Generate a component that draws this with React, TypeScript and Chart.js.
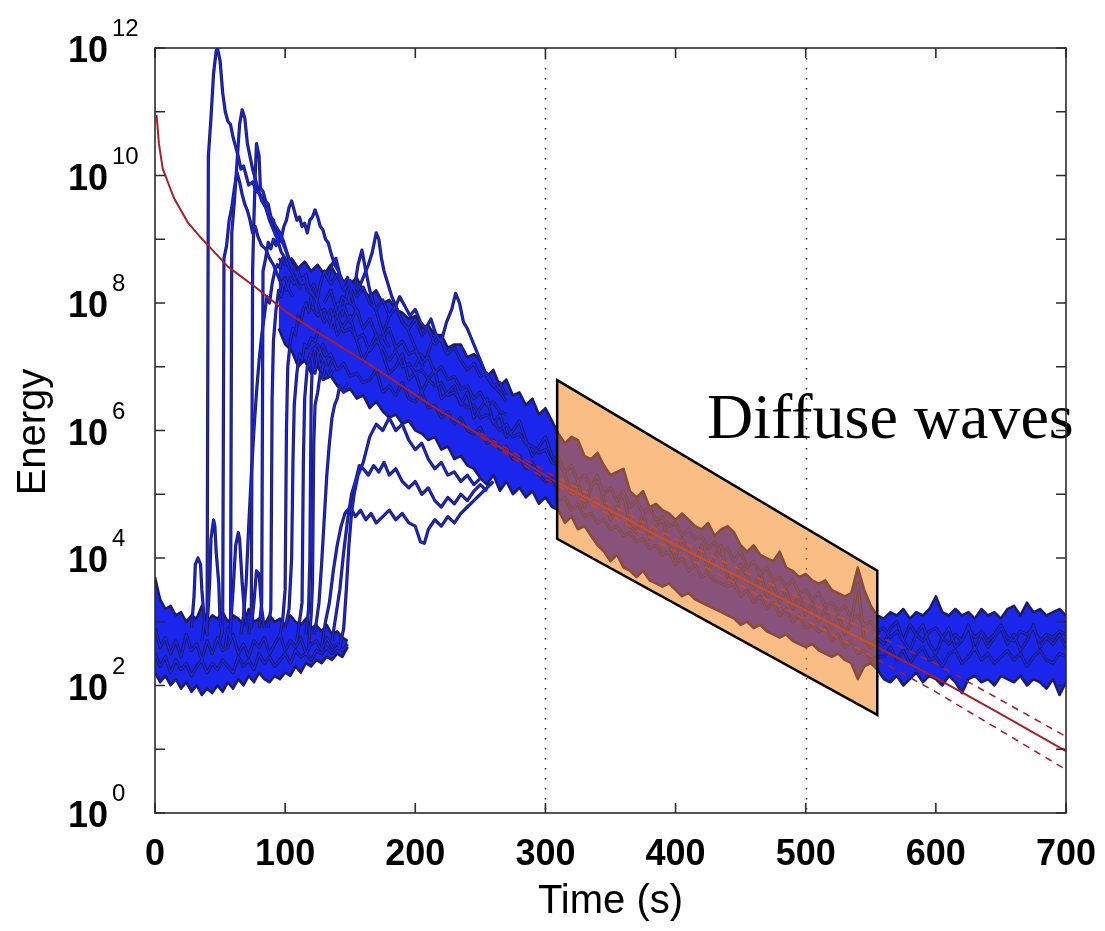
import React, { useEffect, useRef } from "react";
import { Chart, registerables } from "chart.js";
Chart.register(...registerables);

// ---------- axis / labels ----------
const xTickValues = [0, 100, 200, 300, 400, 500, 600, 700];
const yTickExps = [0, 1, 2, 3, 4, 5, 6, 7, 8, 9, 10, 11, 12];
const yLabelExps = [0, 2, 4, 6, 8, 10, 12];
const dottedTimes = [300, 500];
const xTitle = "Time (s)";
const yTitle = "Energy";
const annotationText = "Diffuse waves";

// ---------- highlighted region (time, log10 energy) ----------
const polyTimes = [309, 555, 555, 309];
const polyExps = [6.79, 3.8, 1.54, 4.3];

// ---------- early noise floor envelope (t = 0..148, step 4), log10 energy ----------
const noiseStart = 0;
const noiseStep = 4;
const noiseUpper = [3.7, 3.35, 3.2, 3.25, 3.1, 3.15, 3.0, 3.1, 3.05, 3.25, 3.0, 3.1, 3.05, 3.15, 3.0, 3.1, 3.05, 2.95, 3.2, 3.0, 3.05, 2.95, 3.1, 3.0, 3.05, 2.95, 3.1, 3.0, 2.95, 3.05, 2.9, 2.95, 2.85, 2.95, 2.8, 2.85, 2.75, 2.7];
const noiseLower = [2.2, 2.05, 2.15, 2.0, 2.1, 1.95, 2.05, 1.9, 2.0, 1.85, 1.95, 1.88, 2.0, 1.9, 2.05, 1.95, 2.1, 2.0, 2.15, 2.05, 2.2, 2.1, 2.05, 2.15, 2.1, 2.2, 2.15, 2.3, 2.2, 2.35, 2.3, 2.4, 2.35, 2.45, 2.4, 2.5, 2.45, 2.6];
const noiseTraceA = [2.9, 2.6, 2.75, 2.5, 2.7, 2.45, 2.8, 2.55, 2.65, 2.4, 2.7, 2.5, 2.75, 2.55, 2.6, 2.8, 2.5, 2.65, 2.45, 2.7, 2.6, 2.75, 2.5, 2.65, 2.8, 2.55, 2.7, 2.6, 2.75, 2.5, 2.65, 2.7, 2.55, 2.75, 2.6, 2.65, 2.55, 2.65];
const noiseTraceB = [2.5, 2.3, 2.45, 2.2, 2.4, 2.25, 2.35, 2.15, 2.3, 2.4, 2.2, 2.35, 2.25, 2.4, 2.3, 2.2, 2.45, 2.3, 2.4, 2.25, 2.5, 2.35, 2.45, 2.3, 2.4, 2.5, 2.35, 2.55, 2.45, 2.5, 2.4, 2.55, 2.5, 2.6, 2.5, 2.6, 2.55, 2.62];

// ---------- merged band envelope (t = 95..700, step 5) ----------
const bandStart = 95;
const bandStep = 5;
const bandUpperA = [8.7, 8.6, 8.7, 8.55, 8.65, 8.5, 8.6, 8.45, 8.6, 8.4, 8.35, 8.3, 8.4, 8.2, 8.1, 8.2, 8.0, 8.05, 7.9, 7.85, 7.75, 7.8, 7.6, 7.65, 7.5, 7.5, 7.3, 7.35, 7.35, 7.15, 7.2];
const bandLowerA = [7.6, 7.35, 7.25, 7.0, 7.1, 6.9, 7.0, 6.8, 6.85, 6.7, 6.6, 6.65, 6.5, 6.55, 6.35, 6.45, 6.3, 6.2, 6.25, 6.1, 6.15, 6.0, 5.95, 5.85, 5.9, 5.7, 5.75, 5.55, 5.6, 5.45, 5.4];
const bandUpperB = [7.1, 6.85, 6.95, 6.7, 6.8, 6.55, 6.6, 6.4, 6.5, 6.25, 6.35, 6.15];
const bandLowerB = [5.25, 5.15, 5.3, 5.05, 5.2, 5.0, 5.1, 4.95, 5.05, 4.85, 4.95, 4.8];
const bandUpperC = [5.95, 5.8, 5.9, 5.85, 5.6, 5.55, 5.65, 5.45, 5.3, 5.35, 5.4, 5.05, 4.95, 5.05, 4.8, 4.85, 4.75, 4.7, 4.6, 4.7, 4.6, 4.5, 4.45, 4.55, 4.35, 4.45, 4.5, 4.4, 4.2, 4.1, 4.2, 4.05, 4.0, 3.95, 4.1, 3.85, 3.8, 3.7, 3.75, 3.65, 3.6, 3.65, 3.5, 3.45, 3.4, 3.45, 3.85, 3.5, 3.25, 3.1];
const bandLowerC = [4.75, 4.55, 4.65, 4.45, 4.5, 4.35, 4.2, 4.1, 3.95, 4.05, 3.85, 3.8, 3.7, 3.8, 3.65, 3.6, 3.55, 3.6, 3.5, 3.4, 3.45, 3.35, 3.3, 3.25, 3.2, 3.15, 3.1, 3.05, 2.95, 3.0, 2.9, 2.95, 2.85, 2.8, 2.75, 2.8, 2.7, 2.65, 2.6, 2.65, 2.55, 2.5, 2.45, 2.5, 2.4, 2.35, 2.1, 2.3, 2.35, 2.25];
const bandUpperD = [3.05, 3.15, 3.1, 3.2, 3.05, 3.15, 3.1, 3.2, 3.4, 3.15, 3.1, 3.2, 3.1, 3.15, 3.05, 3.2, 3.1, 3.15, 3.05, 3.2, 3.25, 3.1, 3.3, 3.15, 3.2, 3.1, 3.15, 3.2, 3.1];
const bandLowerD = [2.1, 2.05, 2.15, 2.0, 2.1, 2.2, 2.05, 2.15, 2.1, 2.0, 2.15, 2.05, 1.88, 2.1, 2.15, 2.05, 2.1, 2.0, 2.15, 2.1, 2.05, 2.15, 2.0, 2.1, 2.05, 1.95, 2.1, 1.85, 2.05];

// ---------- traces inside the merged band ----------
const coreStart = 120;
const coreStep = 5;
const coreTraceA = [7.95, 7.8, 7.9, 7.65, 7.8, 7.55, 7.6, 7.45, 7.5, 7.25, 7.4, 7.3, 7.1, 7.25, 7.0, 7.05, 6.9, 6.95, 6.8, 6.7, 6.75, 6.55, 6.6, 6.45, 6.35, 6.4, 6.2, 6.25, 6.15, 6.0, 6.1, 5.9, 5.95, 5.8, 5.75, 5.65, 5.7, 5.5, 5.45];
const coreTraceB = [7.25, 7.35, 7.1, 7.2, 6.95, 7.05, 6.85, 6.9, 6.75, 6.8, 6.95, 6.6, 6.7, 6.55, 6.75, 6.5, 6.45, 6.6, 6.35, 6.4, 6.2, 6.3, 6.1, 6.2, 6.0, 5.95, 6.05, 5.8, 5.85, 5.7, 5.75, 5.55, 5.6, 5.4, 5.5, 5.3, 5.2, 5.25, 5.05];
const coreTraceC = [8.2, 8.0, 7.7, 7.9, 7.5, 7.65, 7.8, 7.4, 7.1, 7.3, 7.5, 7.2, 6.9, 7.0, 7.2, 6.8, 6.9, 6.6, 6.8, 6.95, 6.5, 6.6, 6.7, 6.4, 6.6, 6.2, 6.35, 6.5, 6.1, 6.25, 5.9, 6.0, 6.15, 5.85, 5.6, 5.75, 5.9, 5.6, 5.5];
const meshStart = 130;
const meshStep = 5;
const meshTraceA = [8.5, 8.3, 8.45, 8.2, 8.35, 8.1, 8.25, 8.0, 7.9, 8.05, 7.8, 7.95, 7.7, 7.6, 7.75, 7.5, 7.6, 7.35, 7.45, 7.2, 7.3, 7.1, 6.95, 7.05, 6.85, 6.9, 6.7, 6.75, 6.55];
const meshTraceB = [8.0, 8.2, 7.85, 7.95, 7.7, 7.9, 7.6, 7.75, 7.5, 7.45, 7.6, 7.3, 7.4, 7.2, 7.25, 7.05, 7.15, 6.9, 7.0, 6.8, 6.85, 6.65, 6.7, 6.5, 6.6, 6.4, 6.45, 6.3, 6.25];
const lateStart = 310;
const lateStep = 5;
const lateTraceA = [5.5, 5.35, 5.45, 5.2, 5.3, 5.15, 5.2, 5.0, 5.1, 4.9, 5.05, 4.8, 4.9, 4.7, 4.8, 4.6, 4.65, 4.5, 4.55, 4.35, 4.45, 4.3, 4.35, 4.15, 4.25, 4.05, 4.15, 3.95, 4.1, 3.85, 3.95, 3.75, 3.85, 3.65, 3.7, 3.55, 3.65, 3.45, 3.5, 3.35, 3.45, 3.25, 3.3, 3.15, 3.25, 3.05, 3.1, 2.95, 3.0, 2.85,
  2.9, 2.75, 2.85, 2.7, 2.95, 2.8, 2.7, 2.85, 2.9, 2.75, 2.65, 2.8, 2.7, 2.9, 2.75, 2.85, 2.7, 2.8, 2.95, 2.75, 2.7, 2.85, 2.8, 2.9, 2.7, 2.8, 2.75, 2.85, 2.8];
const lateTraceB = [4.9, 4.95, 4.75, 4.85, 4.65, 4.7, 4.55, 4.6, 4.45, 4.5, 4.35, 4.4, 4.25, 4.3, 4.15, 4.2, 4.05, 4.1, 3.9, 4.0, 3.8, 3.9, 3.7, 3.75, 3.65, 3.6, 3.55, 3.6, 3.4, 3.5, 3.3, 3.4, 3.2, 3.3, 3.1, 3.2, 3.0, 3.1, 2.9, 2.95, 2.85, 2.9, 2.7, 2.8, 2.6, 2.7, 2.5, 2.55, 2.4, 2.45,
  2.45, 2.6, 2.4, 2.55, 2.35, 2.5, 2.6, 2.4, 2.45, 2.3, 2.5, 2.55, 2.35, 2.45, 2.6, 2.4, 2.5, 2.35, 2.45, 2.55, 2.4, 2.5, 2.3, 2.45, 2.55, 2.4, 2.35, 2.5, 2.45];
const lateTraceC = [5.6, 5.3, 5.0, 5.2, 4.8, 5.1, 5.3, 4.9, 4.6, 4.8, 5.0, 4.5, 4.4, 4.7, 4.3, 4.5, 4.6, 4.2, 4.0, 4.3, 4.1, 3.9, 4.2, 3.8, 4.0, 4.2, 3.7, 3.6, 3.9, 3.7, 3.5, 3.8, 3.4, 3.6, 3.3, 3.5, 3.2, 3.4, 3.1, 3.3, 3.0, 3.2, 2.9, 3.1, 2.8, 3.0, 3.6, 2.7, 2.6, 2.75,
  2.65, 2.9, 3.0, 2.7, 2.55, 2.8, 2.95, 2.65, 2.5, 2.75, 2.9, 2.6, 2.7, 2.95, 2.55, 2.8, 2.6, 2.75, 2.9, 2.65, 2.8, 2.55, 2.7, 2.95, 2.6, 2.75, 2.65, 2.8, 2.6];

// ---------- individual traces [time, log10 energy] ----------
const trace01 = [[36, 2.7], [38, 3.0], [40, 2.8], [41, 10.3], [43, 10.9], [45, 11.6], [47, 11.95], [48, 12.0], [50, 11.8], [52, 11.3], [54, 11.0], [56, 10.85], [58, 10.8], [60, 10.6], [62, 10.45], [64, 10.3], [66, 10.1], [68, 10.15], [70, 10.0], [72, 9.85], [75, 9.9], [78, 9.75], [81, 9.7], [84, 9.55], [87, 9.45], [90, 9.3], [93, 9.2], [96, 9.1], [99, 8.95], [102, 8.75], [105, 8.6], [108, 8.5], [111, 8.35], [114, 8.4], [117, 8.2], [120, 8.15]];
const trace02 = [[54, 2.6], [56, 2.9], [58, 2.7], [59, 9.1], [61, 9.6], [63, 10.2], [65, 10.8], [67, 11.03], [69, 10.9], [71, 10.5], [73, 10.3], [75, 10.1], [77, 9.95], [79, 9.8], [82, 9.6], [85, 9.5], [88, 9.3], [91, 9.15], [94, 9.0], [97, 8.8], [100, 8.7], [103, 8.55], [106, 8.45], [109, 8.3], [112, 8.2]];
const trace03 = [[50, 2.7], [52, 2.9], [53, 8.7], [55, 8.9], [57, 9.3], [59, 9.5], [61, 9.8], [63, 10.05], [65, 9.9], [67, 9.7], [69, 9.55], [71, 9.45], [73, 9.3], [75, 9.1], [77, 9.2], [79, 9.05], [82, 8.9], [85, 8.85], [88, 8.7], [91, 8.6], [94, 8.45], [97, 8.3], [100, 8.4], [103, 8.2], [106, 8.1]];
const trace04 = [[72, 2.8], [74, 3.1], [75, 8.5], [76, 9.3], [77, 10.0], [78, 10.5], [80, 10.3], [81, 9.8], [83, 9.75], [85, 9.6], [87, 9.55], [89, 9.35], [91, 9.3], [93, 9.1], [95, 9.0], [98, 8.95], [101, 8.8], [104, 8.6], [107, 8.55], [110, 8.4], [113, 8.3], [116, 8.35], [119, 8.2], [122, 8.1]];
const trace05 = [[80, 2.9], [82, 3.3], [83, 8.5], [85, 8.7], [87, 8.95], [89, 8.85], [91, 9.0], [93, 8.9], [95, 9.1], [97, 9.0], [99, 9.2], [101, 9.3], [103, 9.5], [105, 9.6], [107, 9.45], [109, 9.3], [111, 9.35], [113, 9.2], [115, 9.25], [117, 9.1], [119, 9.3], [121, 9.35], [123, 9.46], [125, 9.35], [127, 9.2], [129, 9.15], [131, 9.0], [133, 8.95], [135, 8.8], [138, 8.6], [141, 8.5], [144, 8.3], [147, 8.2], [150, 8.0], [153, 7.95], [156, 7.85]];
const trace06 = [[66, 2.8], [68, 3.1], [70, 3.6], [72, 4.5], [74, 5.3], [76, 6.0], [78, 6.6], [80, 7.1], [82, 7.5], [84, 7.8], [86, 8.1], [88, 8.0], [90, 8.3], [92, 8.5], [94, 8.6], [96, 8.55], [98, 8.7], [100, 8.6], [103, 8.65], [106, 8.5], [109, 8.45], [112, 8.3]];
const trace07 = [[87, 2.9], [89, 3.2], [90, 6.5], [91, 7.4], [93, 7.9], [95, 8.2], [97, 8.1], [99, 8.35], [101, 8.2], [104, 8.4], [107, 8.3], [110, 8.5], [113, 8.3], [116, 8.45], [119, 8.2], [122, 8.3], [125, 8.1]];
const trace08 = [[96, 2.8], [98, 3.0], [100, 3.5], [101, 6.0], [102, 7.0], [104, 7.4], [106, 7.6], [108, 7.5], [110, 7.8], [112, 7.7], [114, 7.9], [116, 8.0], [118, 7.85], [120, 8.1], [122, 7.9]];
const trace09 = [[100, 2.9], [103, 3.2], [105, 4.0], [106, 5.5], [107, 6.4], [109, 6.9], [111, 7.2], [113, 7.1], [115, 7.35], [117, 7.3], [120, 7.45], [123, 7.4], [126, 7.6]];
const trace10 = [[109, 2.7], [111, 3.0], [113, 3.3], [114, 5.5], [115, 6.5], [117, 7.0], [119, 7.2], [121, 7.1], [123, 7.3], [126, 7.2], [129, 7.35], [132, 7.2]];
const trace11 = [[116, 2.8], [118, 3.2], [119, 4.0], [120, 6.5], [121, 7.1], [123, 6.9], [125, 7.2], [127, 7.0], [130, 7.15], [133, 6.95], [136, 7.1]];
const trace12 = [[118, 2.6], [120, 3.1], [121, 3.6], [122, 5.8], [123, 6.4], [125, 6.6], [127, 6.9], [129, 6.8], [131, 7.0], [134, 6.85], [137, 6.95]];
const trace13 = [[122, 2.8], [124, 3.0], [126, 3.3], [128, 3.9], [130, 4.6], [132, 5.3], [134, 5.8], [136, 6.2], [138, 6.4], [140, 6.5], [142, 6.7], [145, 6.6], [148, 6.75]];
const trace14 = [[128, 2.6], [131, 3.0], [134, 3.3], [137, 3.8], [140, 4.2], [143, 4.5], [146, 4.7], [150, 4.8], [154, 4.65], [158, 4.75], [162, 4.6], [166, 4.7], [170, 4.55], [175, 4.65], [180, 4.75], [185, 4.6], [190, 4.7], [195, 4.55], [200, 4.5], [204, 4.25], [207, 4.23], [210, 4.45], [215, 4.6], [220, 4.5], [225, 4.65], [230, 4.55], [235, 4.7], [240, 4.8], [245, 4.9], [250, 5.0], [255, 5.1], [260, 5.2]];
const trace15 = [[136, 2.7], [139, 3.1], [142, 3.5], [145, 4.1], [148, 4.6], [151, 5.0], [154, 5.2], [157, 5.45], [160, 5.4], [164, 5.3], [168, 5.45], [172, 5.35], [176, 5.5], [180, 5.3], [185, 5.4], [190, 5.2], [195, 5.1], [200, 5.2], [205, 5.0], [210, 5.1], [215, 4.9], [220, 4.8], [225, 4.95], [230, 4.85], [235, 5.0], [240, 4.9], [245, 5.05], [250, 5.15], [255, 5.05]];
const trace16 = [[142, 2.6], [145, 2.9], [147, 3.5], [149, 4.2], [151, 4.7], [153, 5.0], [156, 5.3], [160, 5.5], [165, 5.9], [170, 6.1], [175, 6.0], [180, 6.2], [185, 6.0], [190, 6.1], [195, 5.85], [200, 5.7], [205, 5.8], [210, 5.55], [215, 5.4], [220, 5.5], [225, 5.3], [230, 5.35], [235, 5.2], [240, 5.3], [245, 5.15], [250, 5.25]];
const bump01 = [[28, 2.9], [30, 3.4], [31, 3.9], [33, 4.0], [35, 3.9], [36, 3.5], [38, 3.0], [40, 2.8]];
const bump02 = [[40, 2.9], [42, 3.6], [43, 4.3], [45, 4.6], [46, 4.5], [47, 4.1], [49, 3.6], [50, 3.0], [52, 2.8]];
const bump03 = [[58, 2.9], [60, 3.5], [62, 4.2], [64, 4.4], [65, 4.3], [67, 3.6], [69, 3.1], [71, 2.9]];
const bump04 = [[74, 2.9], [76, 3.3], [78, 3.8], [80, 3.75], [82, 3.2], [84, 2.9]];
const peak01 = [[135, 7.6], [138, 7.9], [141, 8.0], [144, 7.8], [147, 8.1], [150, 8.3], [153, 8.2], [156, 8.6], [159, 8.83], [162, 8.5], [165, 8.2], [168, 8.0], [171, 7.8], [174, 7.6], [177, 7.4], [180, 7.3]];
const peak02 = [[140, 7.8], [144, 8.1], [148, 8.0], [152, 8.3], [156, 8.2], [160, 8.4], [164, 8.6], [167, 8.8], [170, 9.1], [172, 9.0], [174, 8.7], [176, 8.5], [179, 8.3], [182, 8.1], [186, 7.9], [190, 7.7], [194, 7.6], [198, 7.4], [202, 7.2], [206, 7.0]];
const peak03 = [[200, 7.0], [204, 7.2], [208, 7.1], [212, 7.35], [216, 7.5], [220, 7.4], [224, 7.7], [228, 7.9], [231, 8.15], [234, 8.0], [237, 7.7], [240, 7.6], [244, 7.4], [248, 7.2], [252, 7.0], [256, 6.8], [260, 6.7], [265, 6.6], [270, 6.45]];
const peak04 = [[175, 7.5], [180, 7.8], [184, 7.9], [188, 8.1], [192, 7.95], [196, 7.8], [200, 7.9], [204, 7.7], [208, 7.6], [212, 7.75], [216, 7.5], [220, 7.4], [224, 7.2]];
const peak05 = [[124, 8.0], [127, 8.3], [130, 8.5], [133, 8.4], [136, 8.6], [139, 8.7], [142, 8.45], [145, 8.3], [148, 8.4], [151, 8.1], [154, 7.9], [157, 7.8]];

// ---------- decay model (red) [time, log10 energy] ----------
const decayMean = [[1.2, 10.95], [3, 10.5], [6, 10.1], [8, 10.0], [12, 9.78], [15, 9.63], [20, 9.45], [25, 9.27], [35, 9.03], [41, 8.9], [56, 8.57], [77, 8.25], [102, 7.84], [128, 7.5], [163, 7.06], [214, 6.37], [265, 5.74], [306, 5.22], [400, 4.2], [500, 3.18], [555, 2.6], [600, 2.12], [650, 1.55], [700, 0.97]];
const decayUpper = [[250, 5.96], [300, 5.36], [400, 4.3], [500, 3.33], [600, 2.34], [700, 1.2]];
const decayLower = [[250, 5.9], [300, 5.24], [400, 4.1], [500, 3.03], [600, 1.9], [700, 0.68]];

const NAVY = "#1c1c5e";
const BLUE = "#1a26ec";
const RED = "#a81f2c";
const SANS = "'Liberation Sans', Arial, Helvetica, sans-serif";
const SERIF = "'Liberation Serif', 'Times New Roman', Times, serif";

const pairPts = (arr: number[][]) => arr.map(([t, e]) => ({ x: t, y: Math.pow(10, e) }));
const gridPts = (t0: number, step: number, vals: number[]) =>
  vals.map((e, i) => ({ x: t0 + i * step, y: Math.pow(10, e) }));

const pairTraces = [
  bump01, bump02, bump03, bump04,
  trace01, trace02, trace03, trace04, trace05, trace06, trace07, trace08,
  trace09, trace10, trace11, trace12, trace13, trace14, trace15, trace16,
  peak01, peak02, peak03, peak04, peak05,
];

const decorPlugin = {
  id: "decor",
  beforeDatasetsDraw(chart: any) {
    const { ctx, chartArea, scales } = chart;
    ctx.save();
    ctx.strokeStyle = "#2a2a50";
    ctx.lineWidth = 1.6;
    ctx.setLineDash([1.6, 8.4]);
    dottedTimes.forEach((t) => {
      const px = Math.round(scales.x.getPixelForValue(t)) + 0.5;
      ctx.beginPath();
      ctx.moveTo(px, chartArea.top);
      ctx.lineTo(px, chartArea.bottom);
      ctx.stroke();
    });
    ctx.restore();
  },
  afterDatasetsDraw(chart: any) {
    const { ctx, scales } = chart;
    ctx.save();
    ctx.beginPath();
    polyTimes.forEach((t, i) => {
      const px = scales.x.getPixelForValue(t);
      const py = scales.y.getPixelForValue(Math.pow(10, polyExps[i]));
      if (i === 0) ctx.moveTo(px, py);
      else ctx.lineTo(px, py);
    });
    ctx.closePath();
    ctx.fillStyle = "rgba(245,125,10,0.5)";
    ctx.fill();
    ctx.lineWidth = 2.5;
    ctx.strokeStyle = "#000";
    ctx.lineJoin = "miter";
    ctx.stroke();
    ctx.fillStyle = "#000";
    ctx.font = `64px ${SERIF}`;
    ctx.textAlign = "left";
    ctx.textBaseline = "alphabetic";
    ctx.fillText(annotationText, 699, 430);
    ctx.restore();
  },
  afterDraw(chart: any) {
    const { ctx, chartArea, scales } = chart;
    const { left, right, top, bottom } = chartArea;
    ctx.save();
    ctx.strokeStyle = "#2b2b2b";
    ctx.lineWidth = 1.6;
    ctx.setLineDash([]);
    ctx.strokeRect(left, top, right - left, bottom - top);
    const tl = 10;
    ctx.beginPath();
    xTickValues.forEach((v) => {
      const px = scales.x.getPixelForValue(v);
      ctx.moveTo(px, bottom);
      ctx.lineTo(px, bottom - tl);
      ctx.moveTo(px, top);
      ctx.lineTo(px, top + tl);
    });
    yTickExps.forEach((e) => {
      const py = scales.y.getPixelForValue(Math.pow(10, e));
      ctx.moveTo(left, py);
      ctx.lineTo(left + tl, py);
      ctx.moveTo(right, py);
      ctx.lineTo(right - tl, py);
    });
    ctx.stroke();

    ctx.fillStyle = "#000";
    ctx.font = `bold 36px ${SANS}`;
    ctx.textAlign = "center";
    ctx.textBaseline = "alphabetic";
    xTickValues.forEach((v) => {
      ctx.fillText(String(v), scales.x.getPixelForValue(v), bottom + 52);
    });

    yLabelExps.forEach((e) => {
      const py = scales.y.getPixelForValue(Math.pow(10, e));
      ctx.font = `bold 36px ${SANS}`;
      ctx.textAlign = "right";
      ctx.fillText("10", left - 47, py + 14);
      ctx.font = `24px ${SANS}`;
      ctx.textAlign = "left";
      ctx.fillText(String(e), left - 43, py - 12);
    });

    ctx.font = `40px ${SANS}`;
    ctx.textAlign = "center";
    ctx.fillText(xTitle, (left + right) / 2, bottom + 100);
    ctx.translate(37, 424);
    ctx.rotate(-Math.PI / 2);
    ctx.fillText(yTitle, 0, 0);
    ctx.restore();
  },
};

export default function App() {
  const canvasRef = useRef<HTMLCanvasElement | null>(null);

  useEffect(() => {
    if (!canvasRef.current) return;
    const datasets: any[] = [];
    const base = { pointRadius: 0, tension: 0, borderJoinStyle: "round", fill: false };

    datasets.push({ ...base, data: gridPts(noiseStart, noiseStep, noiseLower), borderColor: NAVY, borderWidth: 2.5, order: 3 });
    datasets.push({ ...base, data: gridPts(noiseStart, noiseStep, noiseUpper), borderColor: NAVY, borderWidth: 2.5, fill: "-1", backgroundColor: BLUE, order: 3 });
    const bandUpper = [...bandUpperA, ...bandUpperB, ...bandUpperC, ...bandUpperD];
    const bandLower = [...bandLowerA, ...bandLowerB, ...bandLowerC, ...bandLowerD];
    datasets.push({ ...base, data: gridPts(bandStart, bandStep, bandLower), borderColor: NAVY, borderWidth: 2.5, order: 3 });
    datasets.push({ ...base, data: gridPts(bandStart, bandStep, bandUpper), borderColor: NAVY, borderWidth: 2.5, fill: "-1", backgroundColor: BLUE, order: 3 });

    const allTraces: { x: number; y: number }[][] = [
      gridPts(noiseStart, noiseStep, noiseTraceA),
      gridPts(noiseStart, noiseStep, noiseTraceB),
      gridPts(coreStart, coreStep, coreTraceA),
      gridPts(coreStart, coreStep, coreTraceB),
      gridPts(coreStart, coreStep, coreTraceC),
      gridPts(meshStart, meshStep, meshTraceA),
      gridPts(meshStart, meshStep, meshTraceB),
      gridPts(lateStart, lateStep, lateTraceA),
      gridPts(lateStart, lateStep, lateTraceB),
      gridPts(lateStart, lateStep, lateTraceC),
      ...pairTraces.map(pairPts),
    ];

    allTraces.forEach((pts) => {
      datasets.push({ ...base, data: pts, borderColor: NAVY, borderWidth: 3.2, order: 2 });
    });
    allTraces.forEach((pts) => {
      datasets.push({ ...base, data: pts, borderColor: BLUE, borderWidth: 1.3, order: 1 });
    });

    datasets.push({ ...base, data: pairPts(decayUpper), borderColor: RED, borderWidth: 1.6, borderDash: [7, 6], order: 0 });
    datasets.push({ ...base, data: pairPts(decayLower), borderColor: RED, borderWidth: 1.6, borderDash: [7, 6], order: 0 });
    datasets.push({ ...base, data: pairPts(decayMean), borderColor: RED, borderWidth: 2, order: 0 });

    const chart = new Chart(canvasRef.current, {
      type: "line",
      data: { datasets },
      options: {
        responsive: false,
        animation: false,
        events: [],
        layout: { padding: { top: 40, right: 31, bottom: 0, left: 0 } },
        plugins: { legend: { display: false }, tooltip: { enabled: false } },
        scales: {
          x: {
            type: "linear",
            min: 0,
            max: 700,
            ticks: { display: false, stepSize: 100 },
            grid: { display: false },
            border: { display: false },
            afterFit: (s: any) => { s.height = 110; },
          },
          y: {
            type: "logarithmic",
            min: 1,
            max: 1e12,
            ticks: { display: false },
            grid: { display: false },
            border: { display: false },
            afterFit: (s: any) => { s.width = 147; },
          },
        },
      } as any,
      plugins: [decorPlugin as any],
    });
    return () => chart.destroy();
  }, []);

  return (
    <div style={{ width: 1089, height: 915 }}>
      <canvas ref={canvasRef} width={1089} height={915} style={{ display: "block" }} />
    </div>
  );
}
